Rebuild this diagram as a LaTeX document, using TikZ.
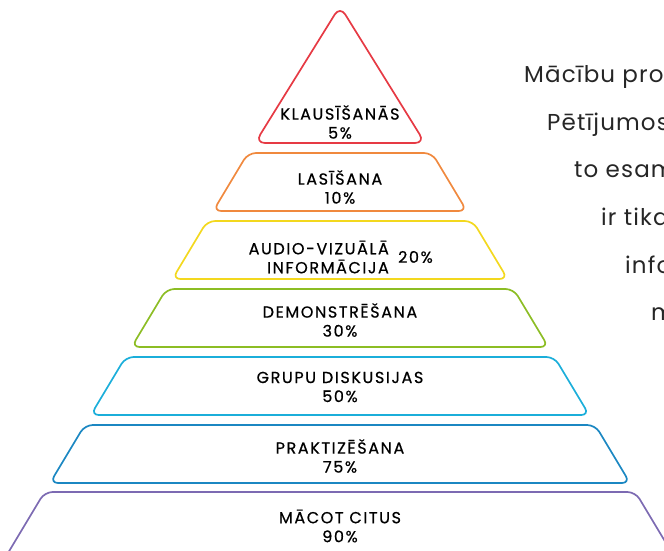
\documentclass[tikz,border=0pt]{standalone}
\usepackage{fontspec}
\setmainfont{Poppins}
\newfontfamily\uzraksts{Poppins}[FakeBold=0.6, LetterSpace=10]
\newfontfamily\plans{Poppins}[LetterSpace=5]
\usetikzlibrary{positioning}
\definecolor{sarkans}{HTML}{E63A44}
\definecolor{oranzs}{HTML}{F0893E}
\definecolor{dzeltens}{HTML}{F3D81E}
\definecolor{zals}{HTML}{8CBD24}
\definecolor{ciana}{HTML}{1BAEDA}
\definecolor{zils}{HTML}{1B87C2}
\definecolor{violets}{HTML}{7C6AB2}
\begin{document}
\begin{tikzpicture}[x=1pt, y=-1pt, line width=1.7pt, node distance=5pt,
  pakape/.style={rounded corners=8pt, line join=round},
  limenis/.style={font=\uzraksts\fontsize{16}{19}\selectfont, align=center, text=black},
  teksts/.style={font=\plans\fontsize{23}{24}\selectfont, text=black!85, anchor=base west}]
\useasboundingbox (0,0) rectangle (664,551);
\clip (0,0) rectangle (664,551);
% Piramida
\draw [pakape, sarkans, rounded corners=10pt] (340,6) -- (425,143) -- (255,143) -- cycle;
\foreach \yt/\hh/\krasa in {153/58/oranzs, 221/58/dzeltens, 289/58/zals, 357/58/ciana, 425/58/zils, 492/90/violets} {
  \pgfmathsetmacro\ha{92+0.6*(\yt-153)}
  \pgfmathsetmacro\hb{92+0.6*(\yt+\hh-153)}
  \draw [pakape, \krasa] (340-\ha,\yt) -- (340+\ha,\yt) -- (340+\hb,\yt+\hh) -- (340-\hb,\yt+\hh) -- cycle;
}
% Uzraksti
\node [limenis] (klaus) at (340,122) {KLAUSĪŠANĀS\\5\%};
\node [limenis] (lasis) at (340,187) {LASĪŠANA\\10\%};
\node [limenis, align=right, anchor=east] (audio) at (393,257) {AUDIO-VIZUĀLĀ\\INFORMĀCIJA};
\node [limenis, right=1pt of audio] (proc20) {20\%};
\node [limenis] (demo) at (340,320) {DEMONSTRĒŠANA\\30\%};
\node [limenis] (grupu) at (340,387) {GRUPU DISKUSIJAS\\50\%};
\node [limenis] (prakt) at (340,456) {PRAKTIZĒŠANA\\75\%};
\node [limenis] (macot) at (340,526) {MĀCOT CITUS\\90\%};
% Teksts pa labi
\node [teksts] (t1) at (520,82) {Mācību pro};
\node [teksts] (t2) at (543,130) {Pētījumos};
\node [teksts] (t3) at (570,177) {to esam};
\node [teksts] (t4) at (597,225) {ir tika};
\node [teksts] (t5) at (621,273) {info};
\node [teksts] (t6) at (647,320) {m};
\end{tikzpicture}
\end{document}
